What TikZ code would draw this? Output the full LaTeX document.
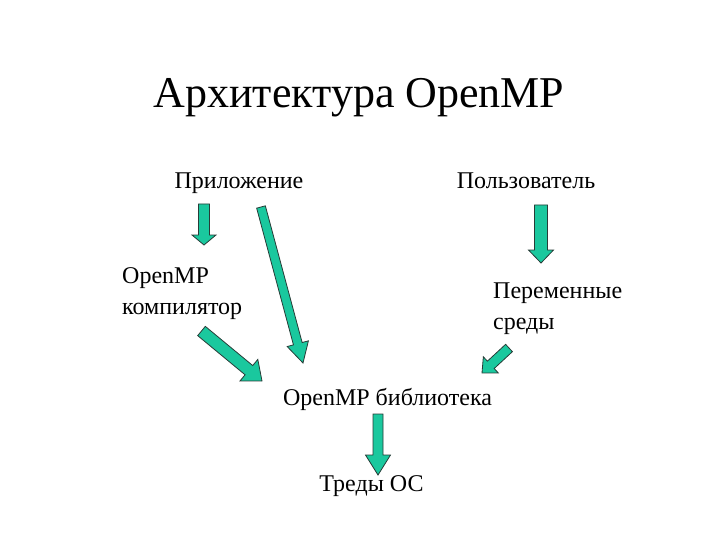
\documentclass[tikz,border=0pt]{standalone}
\usepackage{fontspec}
\setmainfont{Liberation Serif}
\usepackage{tikz}
\usetikzlibrary{calc}
\definecolor{seagreen}{RGB}{26, 200, 158}
\definecolor{darkline}{RGB}{40, 60, 55}

\tikzset{
  txt/.style={inner sep=0pt, font=\fontsize{24}{31}\selectfont},
  fatarrow/.style={draw=darkline, fill=seagreen, line width=0.8pt, line join=miter},
}
% tail, tip, half shaft, half head, head length
\newcommand{\blockarrow}[5]{%
  \coordinate (hb) at ($(#2)!#5!(#1)$);
  \filldraw[fatarrow] ($(#1)!#3!90:(#2)$) -- ($(hb)!#3!90:(#2)$) -- ($(hb)!#4!90:(#2)$) -- (#2)
      -- ($(hb)!#4!-90:(#2)$) -- ($(hb)!#3!-90:(#2)$) -- ($(#1)!#3!-90:(#2)$) -- cycle;
}

\begin{document}
\begin{tikzpicture}[x=1pt, y=-1pt]
  \useasboundingbox (0,0) rectangle (720,540);
  \node[txt, anchor=base, font=\fontsize{44}{52}\selectfont] (title) at (359,108) {Архитектура OpenMP};
  \node[txt, anchor=base] (app)  at (239,189) {Приложение};
  \node[txt, anchor=base] (user) at (526,189) {Пользователь};
  \node[txt, anchor=base west, align=left] (comp) at (122,314) {OpenMP\\компилятор};
  \node[txt, anchor=base west, align=left] (env)  at (493,329) {Переменные\\среды};
  \node[txt, anchor=base] (lib) at (387.5,405) {OpenMP библиотека};
  \node[txt, anchor=base] (os)  at (371.5,491) {Треды ОС};

  \coordinate (app-a)  at (204,204);   \coordinate (app-b)  at (204,245);
  \coordinate (long-a) at (261,207);   \coordinate (long-b) at (303,363);
  \coordinate (comp-a) at (201.5,331); \coordinate (comp-b) at (262,381);
  \coordinate (user-a) at (541,205);   \coordinate (user-b) at (541,263);
  \coordinate (env-a)  at (509,348);   \coordinate (env-b)  at (482,373);
  \coordinate (lib-a)  at (378,414);   \coordinate (lib-b)  at (378,475);

  \blockarrow{app-a}{app-b}{5.5pt}{12pt}{10pt}
  \blockarrow{long-a}{long-b}{4.5pt}{11pt}{20pt}
  \blockarrow{comp-a}{comp-b}{6pt}{14pt}{17pt}
  \blockarrow{user-a}{user-b}{6.5pt}{12.5pt}{13pt}
  \blockarrow{env-a}{env-b}{5pt}{11pt}{12pt}
  \blockarrow{lib-a}{lib-b}{5pt}{12.5pt}{20pt}
\end{tikzpicture}
\end{document}
